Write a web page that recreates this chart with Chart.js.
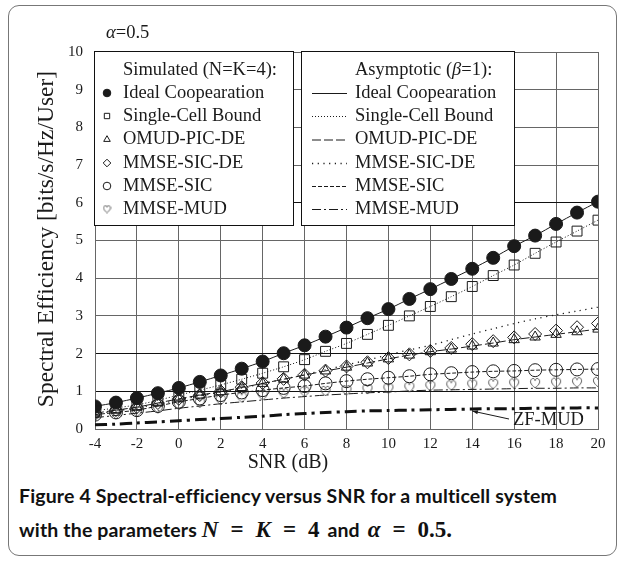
<!DOCTYPE html>
<html>
<head>
<meta charset="utf-8">
<script src="https://cdn.jsdelivr.net/npm/chart.js@4.4.1/dist/chart.umd.min.js"></script>
<style>
  html, body { margin: 0; padding: 0; background: #fff; }
  #frame {
    position: absolute; left: 8px; top: 5px; width: 607px; height: 549px;
    border: 1.5px solid #777; border-radius: 11px;
  }
  #wrap { position: absolute; left: 0; top: 0; width: 625px; height: 475px; }
  #caption {
    position: absolute; left: 19px; top: 479px; width: 600px;
    font-family: Lato, "Noto Sans", sans-serif; font-weight: 700; font-size: 19.5px;
    letter-spacing: 0.15px; line-height: 34px; color: #111; white-space: nowrap;
  }
  .m { font-family: "Liberation Serif", serif; font-weight: 700; font-size: 23px; letter-spacing: 0; }
  .mi { font-family: "Liberation Serif", serif; font-weight: 700; font-style: italic; font-size: 23px; letter-spacing: 0; }
  .eq { margin: 0 12px; }
  .gap { margin: 0 3px; }
</style>
</head>
<body>
<div id="frame"></div>
<div id="wrap"><canvas id="chartSE" width="625" height="475"></canvas></div>
<div id="caption">
  Figure 4 Spectral-efficiency versus SNR for a multicell system<br>
  with the parameters <span class="mi">N</span><span class="m eq">=</span><span class="mi">K</span><span class="m eq">=</span><span class="m">4</span> <span class="gap">and</span> <span class="mi">α</span><span class="m eq">=</span><span class="m">0.5.</span>
</div>

<script>
// ==========================================
// DADOS
// ==========================================
const snr = [-4, -3, -2, -1, 0, 1, 2, 3, 4, 5, 6, 7, 8, 9, 10, 11, 12, 13, 14, 15, 16, 17, 18, 19, 20];
const xTicks = [-4, -2, 0, 2, 4, 6, 8, 10, 12, 14, 16, 18, 20];

// simulados (N=K=4)
const simIdeal    = [0.60, 0.70, 0.82, 0.95, 1.09, 1.25, 1.42, 1.60, 1.79, 2.01, 2.22, 2.45, 2.69, 2.94, 3.18, 3.45, 3.71, 3.98, 4.25, 4.54, 4.85, 5.13, 5.44, 5.74, 6.03];
const simSingle   = [0.48, 0.56, 0.64, 0.76, 0.90, 1.03, 1.17, 1.32, 1.48, 1.65, 1.84, 2.06, 2.27, 2.51, 2.75, 3.00, 3.25, 3.51, 3.78, 4.07, 4.35, 4.66, 4.96, 5.25, 5.54];
const simOmud     = [0.42, 0.50, 0.58, 0.69, 0.80, 0.90, 0.99, 1.10, 1.21, 1.32, 1.43, 1.54, 1.64, 1.75, 1.86, 1.96, 2.05, 2.12, 2.20, 2.28, 2.37, 2.44, 2.51, 2.58, 2.65];
const simSicDe    = [0.42, 0.50, 0.58, 0.69, 0.80, 0.90, 1.00, 1.11, 1.22, 1.33, 1.44, 1.55, 1.66, 1.77, 1.88, 1.98, 2.07, 2.15, 2.25, 2.33, 2.43, 2.52, 2.61, 2.70, 2.80];
const simSic      = [0.38, 0.44, 0.50, 0.61, 0.72, 0.81, 0.90, 0.97, 1.03, 1.09, 1.14, 1.21, 1.27, 1.32, 1.36, 1.40, 1.45, 1.48, 1.51, 1.53, 1.54, 1.56, 1.57, 1.58, 1.59];
const simMud      = [0.34, 0.40, 0.46, 0.55, 0.64, 0.70, 0.77, 0.84, 0.90, 0.95, 0.99, 1.01, 1.03, 1.06, 1.08, 1.11, 1.14, 1.16, 1.18, 1.20, 1.21, 1.22, 1.23, 1.24, 1.25];

// assintóticos (beta=1)
const asyIdeal    = [0.60, 0.70, 0.82, 0.95, 1.09, 1.25, 1.42, 1.60, 1.79, 2.01, 2.22, 2.45, 2.69, 2.94, 3.18, 3.45, 3.71, 3.98, 4.25, 4.54, 4.85, 5.13, 5.44, 5.74, 6.03];
const asySingle   = [0.48, 0.56, 0.64, 0.76, 0.90, 1.03, 1.17, 1.32, 1.48, 1.65, 1.84, 2.06, 2.27, 2.51, 2.75, 3.00, 3.25, 3.51, 3.78, 4.07, 4.35, 4.66, 4.96, 5.25, 5.54];
const asyOmud     = [0.42, 0.50, 0.58, 0.69, 0.80, 0.90, 0.99, 1.10, 1.21, 1.32, 1.43, 1.54, 1.64, 1.75, 1.86, 1.96, 2.05, 2.12, 2.20, 2.28, 2.37, 2.44, 2.51, 2.58, 2.65];
const asySicDe    = [0.40, 0.48, 0.56, 0.66, 0.77, 0.88, 0.98, 1.09, 1.20, 1.32, 1.44, 1.57, 1.70, 1.83, 1.97, 2.10, 2.22, 2.37, 2.52, 2.66, 2.80, 2.92, 3.03, 3.13, 3.23];
const asySic      = [0.38, 0.44, 0.50, 0.61, 0.72, 0.81, 0.90, 0.97, 1.03, 1.09, 1.14, 1.21, 1.27, 1.32, 1.36, 1.40, 1.45, 1.48, 1.51, 1.53, 1.54, 1.56, 1.57, 1.58, 1.59];
const asyMud      = [0.30, 0.36, 0.42, 0.48, 0.55, 0.61, 0.67, 0.72, 0.77, 0.82, 0.86, 0.90, 0.93, 0.96, 0.98, 1.01, 1.03, 1.04, 1.05, 1.06, 1.07, 1.08, 1.08, 1.09, 1.09];
const asyZf       = [0.11, 0.13, 0.16, 0.19, 0.22, 0.25, 0.28, 0.31, 0.34, 0.38, 0.41, 0.44, 0.46, 0.48, 0.49, 0.50, 0.51, 0.52, 0.53, 0.54, 0.54, 0.55, 0.55, 0.56, 0.56];

const simLabels = ['Ideal Coopearation', 'Single-Cell Bound', 'OMUD-PIC-DE', 'MMSE-SIC-DE', 'MMSE-SIC', 'MMSE-MUD'];
const asyLabels = ['Ideal Coopearation', 'Single-Cell Bound', 'OMUD-PIC-DE', 'MMSE-SIC-DE', 'MMSE-SIC', 'MMSE-MUD'];

const SERIF = '"Liberation Serif", "Times New Roman", serif';
const INK = '#1a1a1a';

const pts = arr => snr.map((x, i) => ({ x: x, y: arr[i] }));

// coraçãozinho (MMSE-MUD) como imagem de pointStyle
function heart(size, lw) {
    const c = document.createElement('canvas');
    c.width = size; c.height = size;
    const g = c.getContext('2d');
    const w = size, h = size;
    g.strokeStyle = '#555';
    g.lineWidth = lw;
    g.beginPath();
    g.moveTo(w / 2, h * 0.9);
    g.bezierCurveTo(w * 0.12, h * 0.62, w * 0.02, h * 0.35, w * 0.22, h * 0.16);
    g.bezierCurveTo(w * 0.36, h * 0.05, w * 0.48, h * 0.16, w / 2, h * 0.3);
    g.bezierCurveTo(w * 0.52, h * 0.16, w * 0.64, h * 0.05, w * 0.78, h * 0.16);
    g.bezierCurveTo(w * 0.98, h * 0.35, w * 0.88, h * 0.62, w / 2, h * 0.9);
    g.stroke();
    return c;
}
const heartBig = heart(12, 1);
const heartSmall = heart(9, 1);

// ==========================================
// ESTILOS DAS SÉRIES
// ==========================================
const simStyles = [
    { pointStyle: 'circle', radius: 6.5, fill: INK },
    { pointStyle: 'rect', radius: 7, fill: 'rgba(0,0,0,0)' },
    { pointStyle: 'triangle', radius: 6, fill: 'rgba(0,0,0,0)' },
    { pointStyle: 'rectRot', radius: 6.5, fill: 'rgba(0,0,0,0)' },
    { pointStyle: 'circle', radius: 6.5, fill: 'rgba(0,0,0,0)' },
    { pointStyle: heartBig, radius: 6, fill: 'rgba(0,0,0,0)' }
];
const asyStyles = [
    { dash: [], width: 1 },
    { dash: [1, 2], width: 1 },
    { dash: [9, 3], width: 1 },
    { dash: [1.2, 4.5], width: 1.3 },
    { dash: [4, 2], width: 1 },
    { dash: [9, 3, 2, 3], width: 1 }
];

const simData = [simIdeal, simSingle, simOmud, simSicDe, simSic, simMud];
const asyData = [asyIdeal, asySingle, asyOmud, asySicDe, asySic, asyMud];

const datasets = [];
asyData.forEach((arr, i) => {
    datasets.push({
        label: 'Asymptotic ' + asyLabels[i],
        data: pts(arr),
        showLine: true,
        borderColor: INK,
        borderWidth: asyStyles[i].width,
        borderDash: asyStyles[i].dash,
        pointRadius: 0,
        tension: 0.3
    });
});
datasets.push({
    label: 'ZF-MUD',
    data: pts(asyZf),
    showLine: true,
    borderColor: '#111',
    borderWidth: 3,
    borderDash: [12, 5, 3, 5],
    pointRadius: 0,
    tension: 0.3
});
simData.forEach((arr, i) => {
    datasets.push({
        label: 'Simulated ' + simLabels[i],
        data: pts(arr),
        showLine: false,
        pointStyle: simStyles[i].pointStyle,
        pointRadius: simStyles[i].radius,
        pointBackgroundColor: simStyles[i].fill,
        pointBorderColor: INK,
        pointBorderWidth: 1
    });
});

// ==========================================
// PLUGIN: legendas em caixas, títulos, anotação ZF-MUD
// ==========================================
const decor = {
    id: 'decor',
    afterDatasetsDraw(chart) {
        const ctx = chart.ctx;
        const xs = chart.scales.x, ys = chart.scales.y;
        ctx.save();

        // caixas de legenda
        const boxes = [[94.5, 51.5, 199, 174], [301.5, 51.5, 213, 174]];
        boxes.forEach(b => {
            ctx.fillStyle = '#fff';
            ctx.fillRect(b[0], b[1], b[2], b[3]);
            ctx.strokeStyle = '#111';
            ctx.lineWidth = 1;
            ctx.strokeRect(b[0], b[1], b[2], b[3]);
        });

        const rowY = [93, 116, 139.5, 163, 186, 209];
        ctx.fillStyle = INK;
        ctx.textBaseline = 'middle';
        ctx.textAlign = 'left';
        ctx.font = '18.5px ' + SERIF;
        ctx.fillText('Simulated (N=K=4):', 123, 70);

        // "Asymptotic (β=1):" com beta itálico
        let tx = 355;
        ctx.fillText('Asymptotic (', tx, 70);
        tx += ctx.measureText('Asymptotic (').width;
        ctx.font = 'italic 18.5px ' + SERIF;
        ctx.fillText('β', tx, 70);
        tx += ctx.measureText('β').width;
        ctx.font = '18.5px ' + SERIF;
        ctx.fillText('=1):', tx, 70);

        simLabels.forEach((lab, i) => {
            const st = simStyles[i];
            ctx.fillStyle = st.fill;
            ctx.strokeStyle = INK;
            ctx.lineWidth = 1;
            const ps = st.pointStyle === heartBig ? heartSmall : st.pointStyle;
            Chart.helpers.drawPoint(ctx, { pointStyle: ps, radius: 3.8, rotation: 0, borderWidth: 1 }, 107, rowY[i]);
            ctx.fillStyle = INK;
            ctx.fillText(lab, 123, rowY[i]);
        });

        asyLabels.forEach((lab, i) => {
            const st = asyStyles[i];
            ctx.strokeStyle = INK;
            ctx.lineWidth = st.width;
            ctx.setLineDash(st.dash);
            ctx.beginPath();
            ctx.moveTo(312, rowY[i] + 0.5);
            ctx.lineTo(347, rowY[i] + 0.5);
            ctx.stroke();
            ctx.setLineDash([]);
            ctx.fillStyle = INK;
            ctx.fillText(lab, 355, rowY[i]);
        });

        // alpha
        ctx.font = 'italic 18.5px ' + SERIF;
        ctx.fillText('α', 106, 33);
        let ax = 106 + ctx.measureText('α').width;
        ctx.font = '18.5px ' + SERIF;
        ctx.fillText('=0.5', ax, 33);

        // títulos dos eixos
        ctx.font = '20px ' + SERIF;
        ctx.textAlign = 'center';
        ctx.fillText('SNR (dB)', 288, 463);
        ctx.save();
        ctx.translate(47, 239);
        ctx.rotate(-Math.PI / 2);
        ctx.font = '23.5px ' + SERIF;
        ctx.fillText('Spectral Efficiency [bits/s/Hz/User]', 0, 0);
        ctx.restore();

        // anotação ZF-MUD com seta
        const px = xs.getPixelForValue(snr[18]);
        const py = ys.getPixelForValue(asyZf[18]) + 2;
        ctx.textAlign = 'left';
        ctx.font = '18.5px ' + SERIF;
        ctx.fillText('ZF-MUD', 513, 420);
        ctx.strokeStyle = INK;
        ctx.lineWidth = 1;
        ctx.beginPath();
        ctx.moveTo(509, 419);
        ctx.lineTo(px, py);
        ctx.stroke();
        const ang = Math.atan2(py - 419, px - 509);
        ctx.beginPath();
        ctx.moveTo(px, py);
        ctx.lineTo(px - 6 * Math.cos(ang - 0.35), py - 6 * Math.sin(ang - 0.35));
        ctx.lineTo(px - 6 * Math.cos(ang + 0.35), py - 6 * Math.sin(ang + 0.35));
        ctx.closePath();
        ctx.fillStyle = INK;
        ctx.fill();

        ctx.restore();
    }
};

document.addEventListener("DOMContentLoaded", () => {
    new Chart(document.getElementById('chartSE'), {
        type: 'scatter',
        data: { datasets: datasets },
        plugins: [decor],
        options: {
            responsive: false,
            animation: false,
            layout: { padding: { top: 52, right: 27, left: 0, bottom: 0 } },
            plugins: { legend: { display: false }, tooltip: { enabled: false } },
            scales: {
                x: {
                    type: 'linear',
                    min: -4, max: 20,
                    afterFit: s => { s.height = 46; },
                    afterBuildTicks: s => { s.ticks = xTicks.map(v => ({ value: v })); },
                    grid: { color: '#666', lineWidth: 1, drawTicks: false },
                    border: { color: '#666' },
                    ticks: { color: INK, padding: 6, font: { family: SERIF, size: 15 } }
                },
                y: {
                    min: 0, max: 10,
                    afterFit: s => { s.width = 95; },
                    grid: {
                        color: c => ([1, 2, 6].includes(c.tick && c.tick.value) ? '#111' : '#666'),
                        lineWidth: 1, drawTicks: false
                    },
                    border: { color: '#666' },
                    ticks: { stepSize: 1, color: INK, padding: 12, font: { family: SERIF, size: 15 } }
                }
            }
        }
    });
});
</script>
</body>
</html>
